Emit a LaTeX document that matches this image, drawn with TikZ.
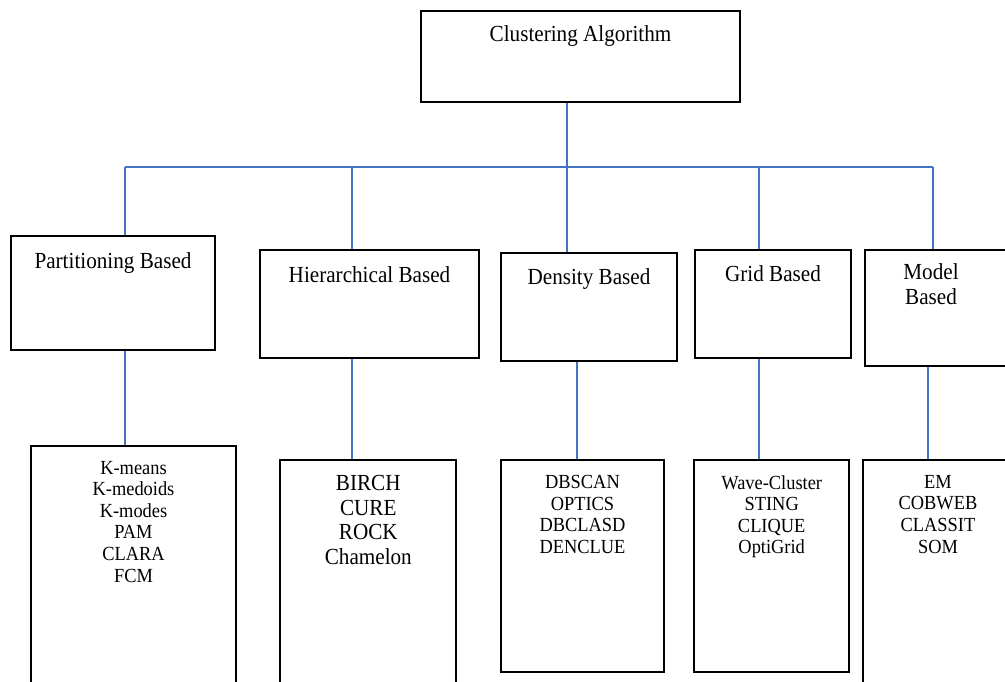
\documentclass[tikz,border=0pt]{standalone}
\usepackage{fontspec}
\setmainfont{Liberation Serif}[FakeStretch=0.92]
\usetikzlibrary{positioning}
\definecolor{linkblue}{RGB}{68,114,196}

\begin{document}
\begin{tikzpicture}[x=1pt,y=-1pt,
    box/.style={draw, line width=2pt, inner sep=0pt},
    link/.style={linkblue, line width=1.8pt},
    head/.style={inner sep=0pt, align=center, font=\fontsize{23}{25}\selectfont},
    list/.style={inner sep=0pt, align=center, font=\fontsize{20}{21.6}\selectfont}]
    \useasboundingbox (0,0) rectangle (1005,681);
    \clip (0,0) rectangle (1005,681);

    \node [box, minimum width=319pt, minimum height=91pt] (algo) at (580.5,56.5) {};
    \node [box, minimum width=204pt, minimum height=114pt] (part) at (113,293) {};
    \node [box, minimum width=219pt, minimum height=108pt] (hier) at (369.5,304) {};
    \node [box, minimum width=176pt, minimum height=108pt] (dens) at (589,306.5) {};
    \node [box, minimum width=156pt, minimum height=108pt] (grid) at (773,303.7) {};
    \node [box, minimum width=150pt, minimum height=116pt] (model) at (940,308) {};

    \node [box, minimum width=205pt, minimum height=254pt] (plist) at (133.5,573) {};
    \node [box, minimum width=176pt, minimum height=240pt] (hlist) at (368.3,580) {};
    \node [box, minimum width=163.6pt, minimum height=211.7pt] (dlist) at (582.5,565.85) {};
    \node [box, minimum width=155.3pt, minimum height=211.7pt] (glist) at (771.7,565.85) {};
    \node [box, minimum width=152pt, minimum height=240pt] (mlist) at (939,580) {};

    \node [head, below=15.5pt of algo.north] (algoT) {Clustering Algorithm};
    \node [head, below=17pt of part.north] (partT) {Partitioning Based};
    \node [head, below=17pt of hier.north] (hierT) {Hierarchical Based};
    \node [head, below=16.7pt of dens.north] (densT) {Density Based};
    \node [head, below=17pt of grid.north] (gridT) {Grid Based};
    \node [head, below=14pt of model.north, xshift=-9pt] (modelT) {Model\\Based};

    \node [list, below=15.7pt of plist.north] (plistT) {K-means\\K-medoids\\K-modes\\PAM\\CLARA\\FCM};
    \node [list, font=\fontsize{23}{24.7}\selectfont, below=16pt of hlist.north] (hlistT) {BIRCH\\CURE\\ROCK\\Chamelon};
    \node [list, below=16pt of dlist.north] (dlistT) {DBSCAN\\OPTICS\\DBCLASD\\DENCLUE};
    \node [list, below=16pt of glist.north] (glistT) {Wave-Cluster\\STING\\CLIQUE\\OptiGrid};
    \node [list, below=16pt of mlist.north, xshift=-1pt] (mlistT) {EM\\COBWEB\\CLASSIT\\SOM};

    \coordinate (jroot) at (567,166.7);
    \draw [link] (algo.south -| jroot) -- (jroot);
    \foreach \n/\x in {part/125, hier/352, dens/567, grid/759, model/932.7} {
        \coordinate (j\n) at (\x,166.7);
        \draw [link] (j\n) -- (j\n |- \n.north);
    }
    \draw [link] (jpart) -- (jmodel);
    \foreach \n/\m/\x in {part/plist/125, hier/hlist/352, dens/dlist/577, grid/glist/759, model/mlist/928}
        \draw [link] (\n.south -| \x,0) -- (\m.north -| \x,0);
\end{tikzpicture}
\end{document}
